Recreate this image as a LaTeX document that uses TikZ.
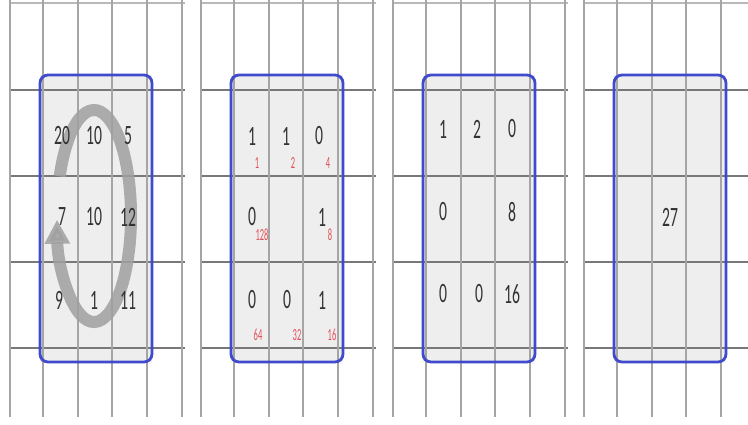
\documentclass[tikz,border=0pt]{standalone}
\usepackage{fontspec}
\setmainfont{Carlito}
\usetikzlibrary{arrows.meta}
\definecolor{boxblue}{RGB}{64,74,204}
\definecolor{boxfill}{RGB}{238,238,238}
\definecolor{vline}{RGB}{165,165,165}
\definecolor{hline}{RGB}{120,120,120}
\definecolor{topline}{RGB}{185,185,185}
\definecolor{arrowgray}{RGB}{160,160,160}
\definecolor{wred}{RGB}{226,80,90}
\tikzset{
  vl/.style={draw=vline, line width=1.4pt},
  hl/.style={draw=hline, line width=1.8pt},
  tl/.style={draw=topline, line width=1.4pt},
  selbox/.style={draw=boxblue, line width=2.8pt, rounded corners=8pt},
  num/.style={font=\fontsize{28}{28}\selectfont, text=black!80, inner sep=0pt, xscale=0.56},
  wnum/.style={font=\fontsize{17}{17}\selectfont, text=wred, inner sep=0pt, xscale=0.5},
}
\begin{document}
\begin{tikzpicture}[x=1pt,y=-1pt]
\useasboundingbox (0,0) rectangle (748,424);
\fill[white] (0,0) rectangle (748,424);
% panels
\foreach \xo/\xe in {10/185, 201/376, 393/568, 584/748}{
  \fill[boxfill] (\xo+30,75) rectangle (\xo+142,362);
  \draw[tl] (\xo,3) -- (\xe,3);
  \foreach \yy in {90,176,262,348}{
    \draw[hl] (\xo,\yy) -- (\xe,\yy);
  }
  \foreach \dx in {0,33,68,102,137,172}{
    \pgfmathsetmacro{\vx}{\xo+\dx}
    \ifdim\vx pt<748pt
      \draw[vl] (\vx,0) -- (\vx,417);
    \fi
  }
}
% circular arrow in panel 1
\draw[draw=arrowgray, opacity=0.85, line width=12pt,
      -{Triangle[width=24pt,length=24pt]}]
  (59.7,176.3) arc[start angle=202, end angle=538, x radius=37, y radius=106];
% selection boxes
\foreach \xo in {10,201,393,584}{
  \draw[selbox] (\xo+30,75) rectangle (\xo+142,362);
}
% panel 1
\node[num] (a11) at (62,136) {20};
\node[num] (a12) at (94,136) {10};
\node[num] (a13) at (128,136) {5};
\node[num] (a21) at (62,217) {7};
\node[num] (a22) at (94,217) {10};
\node[num] (a23) at (128,217) {12};
\node[num] (a31) at (59,300) {9};
\node[num] (a32) at (94,300) {1};
\node[num] (a33) at (128,300) {11};
% panel 2
\node[num] (b11) at (252,136) {1};
\node[num] (b12) at (286,136) {1};
\node[num] (b13) at (319,136) {0};
\node[num] (b21) at (252,217) {0};
\node[num] (b23) at (322,217) {1};
\node[num] (b31) at (252,300) {0};
\node[num] (b32) at (287,300) {0};
\node[num] (b33) at (322,300) {1};
\node[wnum] (w1) at (257,163) {1};
\node[wnum] (w2) at (293,163) {2};
\node[wnum] (w4) at (328,163) {4};
\node[wnum] (w128) at (262,235) {128};
\node[wnum] (w8) at (330,235) {8};
\node[wnum] (w64) at (258,335) {64};
\node[wnum] (w32) at (297,335) {32};
\node[wnum] (w16) at (332,335) {16};
% panel 3
\node[num] (c11) at (443,129) {1};
\node[num] (c12) at (477,129) {2};
\node[num] (c13) at (512,129) {0};
\node[num] (c21) at (443,212) {0};
\node[num] (c23) at (512,212) {8};
\node[num] (c31) at (443,294) {0};
\node[num] (c32) at (479,294) {0};
\node[num] (c33) at (512,294) {16};
% panel 4
\node[num] (d) at (670,217) {27};
\end{tikzpicture}
\end{document}
